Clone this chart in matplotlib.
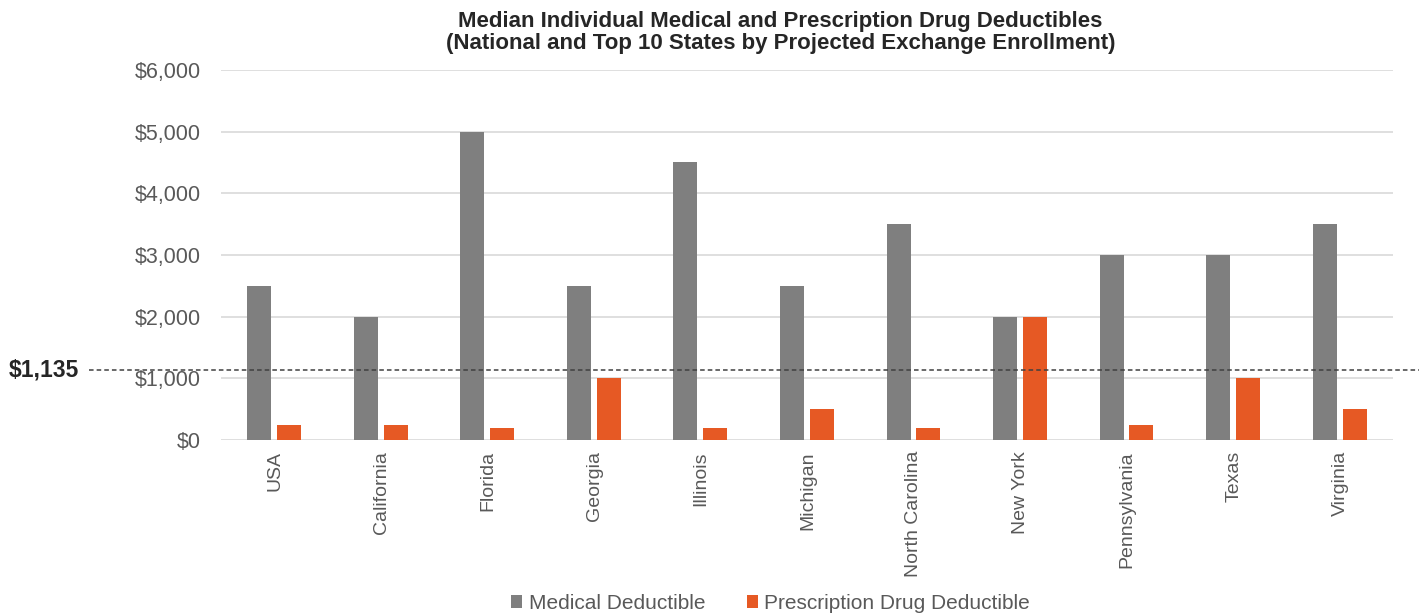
import numpy as np
import matplotlib.pyplot as plt
from matplotlib.transforms import blended_transform_factory

states = ["USA", "California", "Florida", "Georgia", "Illinois", "Michigan",
          "North Carolina", "New York", "Pennsylvania", "Texas", "Virginia"]
medical = [2500, 2000, 5000, 2500, 4500, 2500, 3500, 2000, 3000, 3000, 3500]
drug = [250, 250, 200, 1000, 200, 500, 200, 2000, 250, 1000, 500]
reference_value = 1135
reference_label = "$1,135"
yticks = [0, 1000, 2000, 3000, 4000, 5000, 6000]

plt.rcParams['font.family'] = ['Liberation Sans', 'DejaVu Sans']

fig = plt.figure(figsize=(14.19, 6.15), dpi=100)
ax = fig.add_axes([0.156, 0.2846, 0.826, 0.6016])

x = np.arange(len(states))
w = 0.225
ax.bar(x - 0.145, medical, w, color="#7f7f7f", label="Medical Deductible", zorder=3)
ax.bar(x + 0.135, drug, w, color="#e65924", label="Prescription Drug Deductible", zorder=3)

ax.set_xlim(-0.5, len(states) - 0.5)
ax.set_ylim(0, 6000)
ax.set_yticks(yticks)
ax.set_yticklabels([f"${v:,}" for v in yticks])
ax.set_xticks(x)
ax.set_xticklabels(states, rotation=90)
ax.tick_params(axis='y', length=0, pad=15, labelsize=15.5, labelcolor="#595959")
ax.tick_params(axis='x', length=0, pad=8, labelsize=14, labelcolor="#595959")
ax.grid(axis='y', color="#d9d9d9", linewidth=1.2, zorder=0)
for s in ax.spines.values():
    s.set_visible(False)

# national median line, running out past the axis to its label
tr = blended_transform_factory(ax.transAxes, ax.transData)
ax.plot([-0.113, 1.03], [reference_value, reference_value], transform=tr,
        color="#404040", linestyle=(0, (3, 2)), linewidth=1.1, clip_on=False, zorder=4)
ax.text(-0.181, reference_value, reference_label, transform=tr, ha='left', va='center',
        fontsize=16.5, fontweight='bold', color="#262626")

fig.text(0.55, 0.982, "Median Individual Medical and Prescription Drug Deductibles\n"
         "(National and Top 10 States by Projected Exchange Enrollment)",
         ha='center', va='top', fontsize=16, fontweight='bold', color="#262626",
         linespacing=1.05)

fig.legend(loc='lower center', bbox_to_anchor=(0.543, -0.027), ncol=2, frameon=False,
           fontsize=15, handlelength=0.55, handleheight=0.55, handletextpad=0.3,
           columnspacing=2.0, labelcolor="#595959")

fig.savefig("out.png", dpi=100)
